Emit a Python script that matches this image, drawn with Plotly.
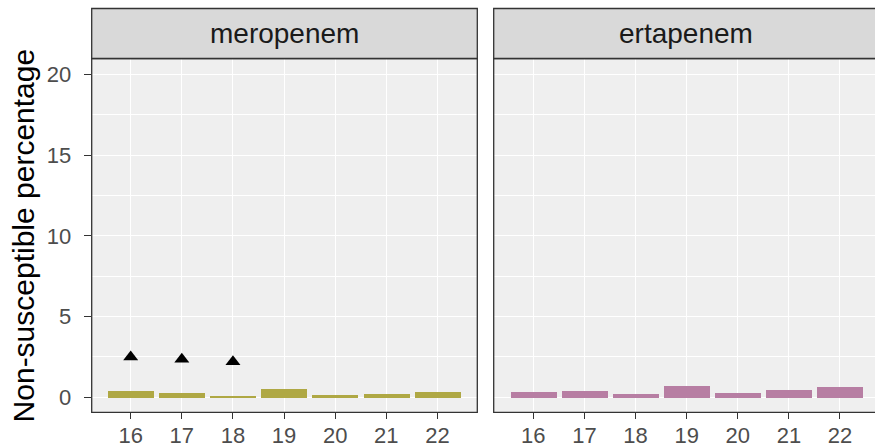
import plotly.graph_objects as go
from plotly.subplots import make_subplots

years = [16, 17, 18, 19, 20, 21, 22]
meropenem = [0.41, 0.27, 0.10, 0.56, 0.17, 0.23, 0.35]
ertapenem = [0.37, 0.39, 0.23, 0.75, 0.29, 0.46, 0.68]
mero_marker_years = [16, 17, 18]
mero_marker_vals = [2.5, 2.35, 2.2]
panels = ["meropenem", "ertapenem"]
y_ticks = [0, 5, 10, 15, 20]

W, H = 875, 447
def px(x):
    return x / W
def py(y):
    return (H - y) / H

x1d = [px(91.7), px(477.3)]
x2d = [px(493.7), 1.0]
yd = [py(412.3), py(58.5)]
strip_top = py(8.5)

fig = make_subplots(rows=1, cols=2)

fig.add_trace(go.Bar(x=years, y=meropenem, width=0.9, marker=dict(color="#AFA844", line=dict(width=0)),
                     showlegend=False), row=1, col=1)
fig.add_trace(go.Scatter(x=mero_marker_years, y=mero_marker_vals, mode="markers",
                         marker=dict(symbol="triangle-up", size=13, color="black"), showlegend=False),
              row=1, col=1)
fig.add_trace(go.Bar(x=years, y=ertapenem, width=0.9, marker=dict(color="#B77EA3", line=dict(width=0)),
                     showlegend=False), row=1, col=2)

tickfont = dict(family="Liberation Sans, Arial", size=22, color="#4D4D4D")
xcommon = dict(tickmode="array", tickvals=years, ticktext=[str(y) for y in years],
               showgrid=True, gridcolor="white", gridwidth=1.1, zeroline=False,
               ticks="outside", ticklen=6, tickwidth=1.3, tickcolor="#333333",
               ticklabelstandoff=-3,
               tickfont=tickfont, showline=False, automargin=False)
fig.update_xaxes(**xcommon)
fig.update_xaxes(domain=x1d, range=[15.237, 22.78], row=1, col=1)
fig.update_xaxes(domain=x2d, range=[15.225, 22.685], row=1, col=2)

ycommon = dict(domain=yd, range=[-0.93, 20.98], tickmode="array", tickvals=y_ticks,
               showgrid=True, gridcolor="white", gridwidth=1.1, zeroline=False,
               minor=dict(tickmode="array", tickvals=[2.5, 7.5, 12.5, 17.5], showgrid=True,
                          gridcolor="white", gridwidth=0.5, ticks=""),
               tickfont=tickfont, showline=False, automargin=False)
fig.update_yaxes(**ycommon)
fig.update_yaxes(ticks="outside", ticklen=7, tickwidth=1.3, tickcolor="#333333",
                 ticklabelstandoff=8, row=1, col=1)
fig.update_yaxes(showticklabels=False, ticks="", row=1, col=2)

shapes = []
for d, name in zip([x1d, x2d], panels):
    shapes.append(dict(type="rect", xref="paper", yref="paper", x0=d[0], x1=d[1] if d[1] < 1 else 1.01,
                       y0=yd[0], y1=yd[1], line=dict(color="#333333", width=1.3), layer="above"))
    shapes.append(dict(type="rect", xref="paper", yref="paper", x0=d[0], x1=d[1] if d[1] < 1 else 1.01,
                       y0=yd[1], y1=strip_top, fillcolor="#D9D9D9",
                       line=dict(color="#333333", width=1.3), layer="above"))
fig.update_layout(shapes=shapes)

annotations = []
for d, name in zip([x1d, [x2d[0], px(879.3)]], panels):
    annotations.append(dict(x=(d[0] + d[1]) / 2, y=(yd[1] + strip_top) / 2, xref="paper", yref="paper",
                            text=name, showarrow=False, xanchor="center", yanchor="middle",
                            font=dict(family="Liberation Sans, Arial", size=28, color="#1A1A1A")))
annotations.append(dict(x=px(23), y=(yd[0] + yd[1]) / 2, xref="paper", yref="paper",
                        text="Non-susceptible percentage", showarrow=False, textangle=-90,
                        xanchor="center", yanchor="middle",
                        font=dict(family="Liberation Sans, Arial", size=30, color="black")))
fig.update_layout(annotations=annotations)

fig.update_layout(width=W, height=H, margin=dict(l=0, r=0, t=0, b=0, autoexpand=False),
                  paper_bgcolor="white", plot_bgcolor="#EFEFEF", bargap=0)

fig.write_html("out.html")
